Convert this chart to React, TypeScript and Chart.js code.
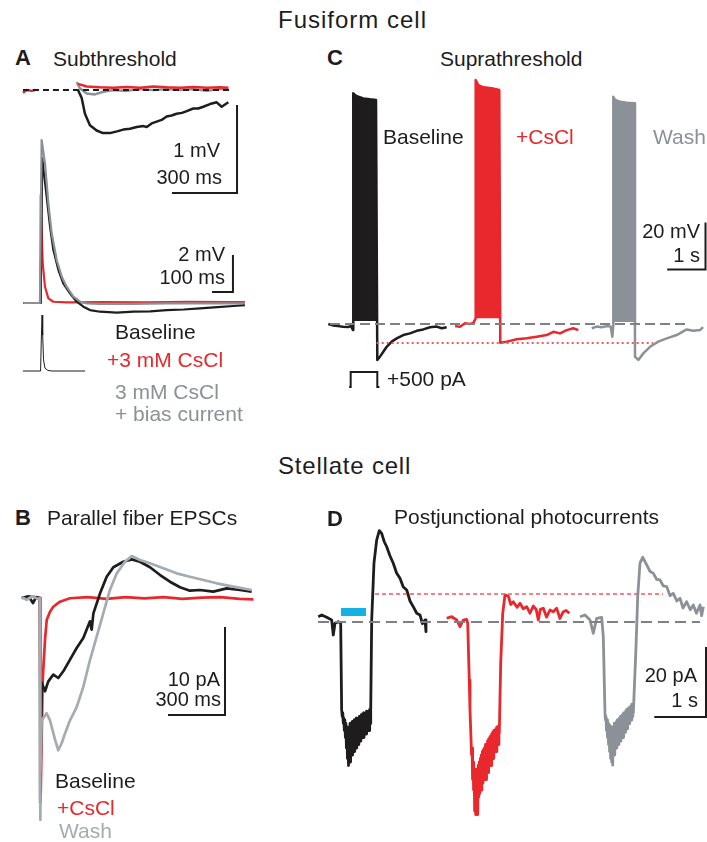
import React, { useEffect, useRef } from "react";
import { Chart, registerables } from "chart.js";

Chart.register(...registerables);

const BLACK = "#1e1c1d";
const RED = "#e8282d";
const GRAY = "#8b9197";
const LIGHT_GRAY = "#a5abb2";
const BLUE = "#14b2e4";
const FONT = '"Liberation Sans", Arial, Helvetica, sans-serif';

// ---------- Panel A (subthreshold, fusiform): time (ms), ΔVm (mV) ----------
const aSubBaseline = [[-254, 0], [700, 0]];
const aSubRedPre = [[-254, -0.03], [-237, 0], [-214, -0.01], [-198, 0]];
const aSubRed = [[0, 0.07], [40, 0.04], [101, 0.03], [163, 0.025], [225, 0.035], [286, 0.025], [348, 0.04], [409, 0.03], [471, 0.025], [532, 0.035], [594, 0.025], [655, 0.03], [694, 0.025]];
const aSubGray = [[-6, 0.09], [9, 0.02], [40, -0.04], [78, -0.05], [117, -0.02], [163, 0], [224, -0.01], [286, 0.01], [347, 0], [409, 0.01], [471, 0], [532, 0.01], [594, -0.01], [655, 0.01], [694, 0.01]];
const aSubBlack = [[0, 0], [17, -0.09], [32, -0.27], [55, -0.4], [86, -0.46], [115, -0.49], [148, -0.49], [180, -0.47], [209, -0.45], [240, -0.44], [271, -0.42], [302, -0.41], [317, -0.42], [340, -0.38], [363, -0.36], [386, -0.34], [409, -0.3], [432, -0.29], [455, -0.27], [480, -0.26], [502, -0.24], [532, -0.21], [555, -0.21], [578, -0.19], [609, -0.16], [640, -0.14], [663, -0.19], [694, -0.14]];
const aSubScale = [[434, -1.17], [734, -1.17], [734, -0.17]];

// ---------- Panel A (EPSPs): time (ms), Vm (mV) ----------
const aEpspGray = [[-84, 0], [-5, 0], [3, 8.81], [19, 7.55], [35, 5.39], [51, 3.77], [75, 2.31], [99, 1.42], [122, 0.88], [154, 0.34], [186, 0.07], [218, -0.02], [281, -0.05], [440, -0.05], [598, -0.02], [757, -0.02], [971, -0.02]];
const aEpspBlack = [[-84, 0], [-2, 0], [6, 7.82], [27, 5.75], [43, 4.14], [59, 2.86], [83, 1.78], [106, 1.06], [138, 0.52], [170, 0.07], [202, -0.2], [233, -0.38], [281, -0.47], [361, -0.52], [440, -0.47], [520, -0.45], [598, -0.38], [680, -0.35], [757, -0.29], [840, -0.22], [916, -0.16], [971, -0.11]];
const aEpspRed = [[-84, 0], [-4, 0], [-1, 5.84], [8, 2.14], [19, 0.88], [35, 0.25], [59, 0.07], [122, 0.03], [300, 0.05], [500, 0.04], [700, 0.06], [900, 0.05], [971, 0.05]];
const aStimWave = [[-86, 0], [-2, 0], [1.4, 0.55], [5, 1], [8, 0.64], [12, 0.2], [19, 0.05], [33, 0.01], [52, 0], [210, 0]];
const aEpspScale = [[814, 0.6], [914, 0.6], [914, 2.6]];

// ---------- Panel C (suprathreshold): time (s), Vm (mV) ----------
const cBlackPre = [[-0.044, -65], [0.078, -65.6], [0.209, -65.9], [0.339, -66.2], [0.47, -66.3], [0.548, -65.9], [0.601, -67.6], [0.608, -63.7]];
const cBlackTop = [[0.608, 33.2], [0.653, 32.4], [0.739, 31.7], [0.869, 31.0], [1.044, 30.6], [1.201, 30.3]];
const cBlackPost = [[1.235, -80.3], [1.305, -78.9], [1.392, -76.8], [1.48, -74.7], [1.611, -72.5], [1.742, -71.1], [1.914, -69.7], [2.089, -69.0], [2.264, -67.9], [2.436, -67.3], [2.611, -66.4], [2.786, -66.1], [2.916, -66.8], [3.047, -66.4]];
const cBlackFloor = -63.7;
const cRedPre = [[3.264, -65.9], [3.394, -66.2], [3.525, -64.7], [3.655, -65.0], [3.742, -64.5], [3.804, -62.6]];
const cRedTop = [[3.804, 38.8], [3.872, 36.7], [4.003, 35.7], [4.222, 35.3], [4.42, 34.6]];
const cRedPost = [[4.446, -73.0], [4.614, -72.5], [4.875, -71.5], [5.136, -71.1], [5.397, -70.4], [5.658, -69.7], [5.83, -68.3], [6.005, -69.0], [6.18, -67.6], [6.352, -66.8], [6.483, -67.6]];
const cRedFloor = -62.6;
const cGrayPre = [[6.833, -66.8], [6.963, -66.1], [7.094, -66.4], [7.225, -65.9], [7.329, -66.1], [7.371, -70.4], [7.397, -65.4]];
const cGrayTop = [[7.397, 31.7], [7.441, 30.3], [7.572, 29.6], [7.747, 29.2], [7.945, 28.9]];
const cGrayPost = [[7.963, -78.9], [8.05, -80.3], [8.18, -77.5], [8.355, -74.7], [8.572, -72.5], [8.791, -71.1], [9.052, -69.7], [9.313, -67.3], [9.486, -67.9], [9.661, -67.6], [9.739, -66.3]];
const cGrayFloor = -64.1;
const cRestLevel = [[0, -65], [9.347, -65]];
const cRedAhpLevel = [[1.219, -73.1], [8.433, -73.1]];
const cStepCurrent = [[0.5, 0], [0.54, 0], [0.54, 500], [1.235, 500], [1.235, 0], [1.29, 0]]; // pA
const cScale = [[8.804, -41.8], [9.804, -41.8], [9.804, -21.8]];

// ---------- Panel B (parallel fiber EPSCs): time (ms), current (pA) ----------
const bGray = [[-96, 0.1], [-70, -0.2], [-40, 0.2], [-10, -0.1], [0, 0], [1, -25.2], [3, -20], [8.9, -13.9], [35, -13.1], [52.6, -13.9], [79, -16.1], [96.3, -17.3], [114, -16.5], [131.6, -15.4], [158, -13.9], [193, -12.4], [228, -10.1], [263, -7.05], [298, -4.43], [333, -1.74], [368, 0.91], [404, 2.8], [447, 4.12], [483, 4.77], [526, 4.32], [579, 3.94], [649, 3.37], [719, 2.8], [789, 2.42], [860, 2.05], [930, 1.67], [1017, 1.29], [1114, 0.91]];
const bBlack = [[-96, 0], [-60, 0.2], [-37, -0.57], [-20, 0.1], [0, 0], [1, -23.3], [8.9, -9.62], [26.3, -10.6], [43.7, -9.47], [70, -8.71], [96.3, -9.09], [122.6, -8.33], [158, -7.01], [193, -5.68], [228, -4.55], [263, -2.65], [272, -3.6], [281, -1.74], [316, 0.53], [351, 2.42], [386, 3.49], [438, 4.12], [483, 4.39], [526, 4.12], [579, 3.49], [632, 2.61], [684, 1.85], [737, 1.22], [789, 0.83], [842, 0.91], [912, 0.72], [983, 1.1], [1053, 0.91], [1114, 0.72]];
const bRed = [[-96, 0], [-50, 0.2], [0, 0], [3.7, -22.2], [14.2, -9.3], [26.3, -4.77], [35.3, -2.5], [52.6, -1.56], [70, -0.99], [105, -0.42], [158, -0.03], [250, 0.1], [350, -0.1], [450, 0.1], [550, -0.05], [650, 0.1], [750, -0.1], [850, 0.05], [950, 0.1], [1050, -0.1], [1123, -0.15]];
const bScale = [[673.7, -13.3], [973.7, -13.3], [973.7, -3.3]];

// ---------- Panel D (photocurrents): time (s), current (pA) ----------
const dBlack = [[0.006, 1.51], [0.072, 2.0], [0.168, 1.34], [0.265, 0.57], [0.296, -3.71], [0.329, -0.38], [0.393, 0.09], [0.439, -0.2],
  [0.458, -25.1], [0.47, -27], [0.48, -26], [0.49, -29], [0.5, -27.5], [0.51, -31], [0.52, -28], [0.53, -33], [0.54, -29], [0.55, -36], [0.56, -30], [0.57, -39], [0.58, -31], [0.59, -41], [0.6, -30], [0.61, -39], [0.62, -29], [0.63, -40], [0.64, -29.5], [0.65, -37], [0.66, -28.5], [0.67, -38], [0.68, -29], [0.69, -36], [0.7, -28], [0.71, -37], [0.72, -28], [0.73, -35], [0.74, -27.5], [0.75, -36], [0.76, -28], [0.77, -34], [0.78, -27.5], [0.79, -35], [0.8, -27], [0.81, -33.5], [0.82, -27], [0.83, -34], [0.84, -26.5], [0.85, -33], [0.86, -27], [0.87, -32], [0.88, -26], [0.89, -33], [0.9, -26.5], [0.91, -31.5], [0.92, -26], [0.93, -32], [0.94, -25.5], [0.95, -31], [0.96, -26], [0.97, -30.5], [0.98, -25.5], [0.99, -31], [1.0, -25], [1.01, -29], [1.02, -25],
  [1.039, 0.57], [1.083, 16.8], [1.135, 23.4], [1.186, 26.1], [1.232, 25.3], [1.28, 23.0], [1.329, 21.5], [1.39, 19.0], [1.456, 16.8], [1.52, 14.0], [1.586, 12.5], [1.65, 10.0], [1.716, 9.14], [1.78, 6.0], [1.843, 4.37], [1.91, 2.5], [1.973, 2.0], [2.02, -0.5], [2.07, 0.57], [2.089, -2.77]];
const dRed = [[2.489, 1.06], [2.586, 1.51], [2.683, 0.57], [2.747, -1.34], [2.81, 0.57], [2.876, 0.77], [2.896, -0.37],
  [2.926, -16.6], [2.94, -25], [2.954, -30.9], [2.97, -38], [2.98, -36], [2.99, -45], [3.0, -40], [3.01, -48], [3.02, -42], [3.03, -54], [3.04, -44], [3.05, -55], [3.06, -43], [3.07, -51], [3.08, -42], [3.09, -55], [3.1, -41], [3.11, -50], [3.12, -40], [3.13, -49], [3.14, -39], [3.15, -47], [3.16, -38], [3.17, -48], [3.18, -37], [3.19, -46], [3.2, -36.5], [3.21, -45], [3.22, -36], [3.23, -44], [3.24, -35], [3.25, -45], [3.26, -35], [3.27, -42], [3.28, -34], [3.29, -43], [3.3, -33.5], [3.31, -41], [3.32, -33], [3.33, -40], [3.34, -32.5], [3.35, -41], [3.36, -32], [3.37, -38], [3.38, -31.5], [3.39, -39], [3.4, -31], [3.41, -37], [3.42, -31], [3.43, -36], [3.44, -30.5], [3.45, -37], [3.46, -30], [3.47, -35], [3.48, -30], [3.49, -35], [3.5, -29.5], [3.507, -31.8],
  [3.534, -11.8], [3.573, 2.48], [3.617, 7.71], [3.681, 7.43], [3.73, 5.0], [3.778, 5.8], [3.85, 4.2], [3.907, 5.34], [3.97, 3.8], [4.037, 4.37], [4.1, 2.5], [4.164, 4.57], [4.22, 3.6], [4.261, 0.57], [4.3, 3.6], [4.358, 3.91], [4.42, 1.4], [4.487, 3.43], [4.55, 2.9], [4.617, 3.91], [4.68, 1.0], [4.745, 2.94], [4.8, 3.3], [4.861, 2.48]];
const dGray = [[5.068, 1.51], [5.164, 2.0], [5.261, 0.57], [5.325, -3.23], [5.391, 1.06], [5.487, 1.34], [5.518, -4.2],
  [5.551, -25.9], [5.56, -28], [5.57, -27], [5.58, -31], [5.59, -28], [5.6, -33], [5.61, -29], [5.62, -35], [5.63, -29.5], [5.64, -37], [5.65, -30], [5.66, -39], [5.67, -30], [5.68, -40], [5.69, -30.5], [5.7, -40.9], [5.71, -30], [5.72, -37], [5.73, -29], [5.74, -38], [5.75, -29.5], [5.76, -35], [5.77, -28.5], [5.78, -36], [5.79, -28], [5.8, -34], [5.81, -28], [5.82, -35], [5.83, -27.5], [5.84, -33], [5.85, -27], [5.86, -34], [5.87, -27], [5.88, -32], [5.89, -26.5], [5.9, -33], [5.91, -26], [5.92, -31], [5.93, -26], [5.94, -31.5], [5.95, -25.5], [5.96, -30], [5.97, -25], [5.98, -30.5], [5.99, -25], [6.0, -29], [6.01, -24.5], [6.02, -29], [6.03, -24.5], [6.04, -28], [6.05, -24], [6.06, -28], [6.07, -23.5], [6.08, -27], [6.09, -23.5], [6.099, -26],
  [6.151, -7.06], [6.184, 7.23], [6.228, 16.8], [6.28, 18.5], [6.358, 16.3], [6.42, 14.5], [6.486, 13.9], [6.55, 12.2], [6.615, 12.0], [6.68, 10.3], [6.745, 10.1], [6.81, 7.5], [6.872, 8.2], [6.94, 6.0], [7.002, 6.77], [7.06, 4.0], [7.131, 5.8], [7.2, 3.5], [7.259, 4.86], [7.32, 2.5], [7.389, 4.86], [7.42, 1.8], [7.453, 4.37]];
const dRestLevel = [[0, 0], [7.389, 0]];
const dRedLevel = [[1.103, 8.0], [6.673, 8.0]];
const dLightPulse = [[0.445, 2.86], [0.928, 2.86]];
const dScale = [[6.505, -27.14], [7.505, -27.14], [7.505, -7.14]];

type Pt = number[];
const pts = (a: Pt[]) => a.map(([x, y]) => ({ x, y }));

function line(data: Pt[], color: string, width: number, extra: any = {}) {
  return {
    data: pts(data),
    borderColor: color,
    backgroundColor: color,
    borderWidth: width,
    pointRadius: 0,
    tension: 0,
    fill: false,
    borderCapStyle: "butt",
    borderJoinStyle: "round",
    ...extra,
  };
}

function block(top: Pt[], floor: number, color: string) {
  const first = top[0][0];
  const last = top[top.length - 1][0];
  const data = [[first, floor], ...top, [last, floor]];
  return {
    data: pts(data),
    borderColor: color,
    backgroundColor: color,
    borderWidth: 1,
    pointRadius: 0,
    tension: 0,
    fill: { value: floor },
  };
}

function scaleBar(data: Pt[]) {
  return line(data, BLACK, 2, { borderJoinStyle: "miter" });
}

type PanelProps = {
  left: number;
  top: number;
  width: number;
  height: number;
  x: [number, number];
  y: [number, number];
  y2?: [number, number];
  datasets: any[];
};

function Panel({ left, top, width, height, x, y, y2, datasets }: PanelProps) {
  const ref = useRef<HTMLCanvasElement | null>(null);
  useEffect(() => {
    if (!ref.current) return;
    const scales: any = {
      x: { type: "linear", display: false, min: x[0], max: x[1] },
      y: { type: "linear", display: false, min: y[0], max: y[1] },
    };
    if (y2) scales.y2 = { type: "linear", display: false, min: y2[0], max: y2[1] };
    const chart = new Chart(ref.current, {
      type: "line",
      data: { datasets },
      options: {
        animation: false,
        responsive: false,
        maintainAspectRatio: false,
        events: [],
        layout: { padding: 0 },
        plugins: { legend: { display: false }, tooltip: { enabled: false }, title: { display: false } },
        scales,
      } as any,
    });
    return () => chart.destroy();
  }, []);
  return (
    <canvas
      ref={ref}
      width={width}
      height={height}
      style={{ position: "absolute", left, top, width, height }}
    />
  );
}

type TProps = {
  x: number;
  b: number;
  size?: number;
  color?: string;
  bold?: boolean;
  right?: boolean;
  ls?: number;
  children: React.ReactNode;
};

function T({ x, b, size = 21, color = BLACK, bold = false, right = false, ls = 0, children }: TProps) {
  const style: React.CSSProperties = {
    position: "absolute",
    top: b - 0.847 * size,
    fontFamily: FONT,
    fontSize: size,
    lineHeight: `${size}px`,
    fontWeight: bold ? 700 : 400,
    color,
    whiteSpace: "nowrap",
    letterSpacing: ls,
  };
  if (right) style.right = 707 - x;
  else style.left = x;
  return <div style={style}>{children}</div>;
}

export default function App() {
  const aTop = [
    line(aSubBaseline, BLACK, 2, { borderDash: [6, 4] }),
    line(aSubRedPre, RED, 2.5),
    line(aSubRed, RED, 2.5),
    line(aSubGray, GRAY, 2.5),
    line(aSubBlack, BLACK, 2.5),
    scaleBar(aSubScale),
  ];
  const aBottom = [
    line(aEpspGray, GRAY, 2.2),
    line(aEpspBlack, BLACK, 2.2),
    line(aEpspRed, RED, 2.2),
    line(aStimWave, BLACK, 1, { yAxisID: "y2" }),
    scaleBar(aEpspScale),
  ];
  const cSets = [
    line(cRestLevel, "#7d8085", 2, { borderDash: [10, 5] }),
    line(cRedAhpLevel, "#ee5a5e", 2, { borderDash: [2, 3] }),
    block(cBlackTop, cBlackFloor, BLACK),
    line([...cBlackPre, ...cBlackTop, ...cBlackPost], BLACK, 2.5),
    block(cRedTop, cRedFloor, RED),
    line([...cRedPre, ...cRedTop, ...cRedPost], RED, 2.5),
    block(cGrayTop, cGrayFloor, GRAY),
    line([...cGrayPre, ...cGrayTop, ...cGrayPost], GRAY, 2.5),
    line(cStepCurrent, BLACK, 2, { yAxisID: "y2", borderJoinStyle: "miter" }),
    scaleBar(cScale),
  ];
  const bSets = [
    line(bGray, LIGHT_GRAY, 2.7),
    line(bBlack, BLACK, 2.7),
    line(bRed, RED, 2.7),
    scaleBar(bScale),
  ];
  const dSets = [
    line(dRestLevel, "#7d8085", 2, { borderDash: [11, 6] }),
    line(dRedLevel, "#ee5a5e", 1.5, { borderDash: [4, 3] }),
    line(dLightPulse, BLUE, 8),
    line(dBlack, BLACK, 2.8),
    line(dRed, RED, 2.8),
    line(dGray, GRAY, 2.8),
    scaleBar(dScale),
  ];

  return (
    <div style={{ position: "absolute", left: 0, top: 0, width: 707, height: 842, background: "#ffffff", overflow: "hidden" }}>
      <Panel left={15} top={75} width={230} height={125} x={[-290.8, 770.8]} y={[-1.25, 0.1705]} datasets={aTop} />
      <Panel left={15} top={125} width={235} height={260} x={[-123.8, 995.2]} y={[-4.43, 9.62]} y2={[-0.25, 4.393]} datasets={aBottom} />
      <Panel left={320} top={70} width={387} height={330} x={[-0.261, 9.843]} y={[-97.34, 43.09]} y2={[-433, 10567]} datasets={cSets} />
      <Panel left={10} top={540} width={250} height={290} x={[-157.9, 1157.9]} y={[-26.36, 6.59]} datasets={bSets} />
      <Panel left={305} top={515} width={402} height={315} x={[-0.251, 7.524]} y={[-59.43, 30.57]} datasets={dSets} />

      <T x={278} b={28} size={24} ls={1}>Fusiform cell</T>
      <T x={15} b={66} size={22} bold>A</T>
      <T x={53} b={66}>Subthreshold</T>
      <T x={327} b={66} size={22} bold>C</T>
      <T x={440} b={66}>Suprathreshold</T>

      <T x={220} b={157} size={20} right>1 mV</T>
      <T x={222} b={184} size={20} right>300 ms</T>
      <T x={225} b={261} size={20} right>2 mV</T>
      <T x={225} b={284} size={20} right>100 ms</T>

      <T x={115} b={339}>Baseline</T>
      <T x={107} b={366.7} color={RED}>+3 mM CsCl</T>
      <T x={115} b={399} color={GRAY}>3 mM CsCl</T>
      <T x={115} b={421} color={GRAY}>+ bias current</T>

      <T x={383} b={144}>Baseline</T>
      <T x={516} b={144} color={RED}>+CsCl</T>
      <T x={653} b={144} color={GRAY}>Wash</T>
      <T x={700} b={238} size={20} right>20 mV</T>
      <T x={700} b={262} size={20} right>1 s</T>
      <T x={387} b={386}>+500 pA</T>

      <T x={278} b={474} size={24} ls={0.8}>Stellate cell</T>
      <T x={15} b={526} size={22} bold>B</T>
      <T x={47} b={525}>Parallel fiber EPSCs</T>
      <T x={327} b={527} size={22} bold>D</T>
      <T x={394} b={524}>Postjunctional photocurrents</T>

      <T x={220} b={686} size={20} right>10 pA</T>
      <T x={221} b={706} size={20} right>300 ms</T>
      <T x={55} b={788}>Baseline</T>
      <T x={57} b={815} color={RED}>+CsCl</T>
      <T x={59} b={838} color={LIGHT_GRAY}>Wash</T>

      <T x={697} b={682} size={20} right>20 pA</T>
      <T x={698} b={707} size={20} right>1 s</T>
    </div>
  );
}
